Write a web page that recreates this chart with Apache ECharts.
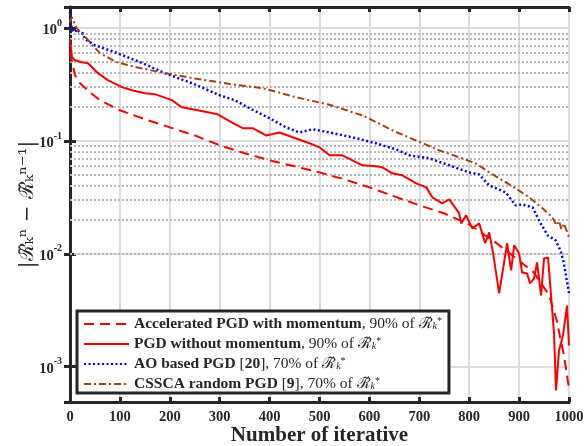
<!DOCTYPE html>
<html>
<head>
<meta charset="utf-8">
<script src="https://cdn.jsdelivr.net/npm/echarts@6/dist/echarts.min.js"></script>
<style>
html, body {margin: 0; padding: 0; background: #fff;}
#main {width: 584px; height: 446px;}
</style>
</head>
<body>
<div id="main"></div>
<script>
// Accelerated PGD with momentum
var accIter = [0, 10, 20, 40, 60, 100, 150, 200, 250, 300, 350, 400, 450, 500, 550, 600, 650, 700, 750, 800, 850, 900, 930, 960, 975, 990, 1000];
var accVal = [0.612, 0.383, 0.325, 0.27, 0.23, 0.187, 0.156, 0.132, 0.112, 0.0916, 0.0778, 0.0674, 0.0596, 0.0527, 0.0457, 0.0388, 0.0323, 0.0269, 0.0228, 0.0182, 0.0129, 0.0087, 0.0068, 0.0043, 0.0026, 0.00125, 0.00064];

// PGD without momentum
var pgdIter = [0, 4, 10, 24, 36, 56, 76, 104, 124, 150, 170, 204, 224, 256, 296, 324, 346, 366, 393, 420, 446, 480, 500, 520, 546, 566, 586, 613, 626, 646, 666, 694, 714, 726, 746, 760, 780, 784, 794, 806, 820, 832, 840, 848, 860, 876, 884, 890, 900, 906, 916, 922, 930, 936, 944, 950, 958, 970, 974, 980, 988, 996, 1000];
var pgdVal = [0.80, 0.553, 0.52, 0.499, 0.489, 0.399, 0.346, 0.300, 0.282, 0.265, 0.260, 0.230, 0.199, 0.187, 0.1725, 0.1465, 0.130, 0.130, 0.112, 0.119, 0.108, 0.0954, 0.0879, 0.0746, 0.0746, 0.0674, 0.0609, 0.0596, 0.0584, 0.0517, 0.0496, 0.0421, 0.0388, 0.0317, 0.028, 0.0304, 0.0228, 0.0186, 0.0219, 0.0168, 0.0186, 0.0124, 0.0155, 0.0101, 0.00446, 0.0124, 0.00713, 0.0119, 0.0101, 0.00684, 0.0067, 0.00546, 0.00605, 0.00839, 0.00427, 0.0091, 0.00929, 0.00197, 0.000614, 0.00139, 0.00189, 0.00348, 0.00154];

// AO based PGD
var aoIter = [0, 3, 6, 10, 14, 18, 22, 26, 30, 50, 90, 150, 190, 250, 300, 330, 360, 400, 433, 460, 486, 520, 573, 613, 653, 680, 720, 760, 800, 820, 840, 873, 893, 907, 927, 940, 957, 973, 983, 990, 995, 1000];
var aoVal = [1.39, 0.98, 1.0, 0.92, 0.98, 0.93, 0.95, 0.9, 0.80, 0.706, 0.612, 0.48, 0.399, 0.318, 0.254, 0.23, 0.195, 0.159, 0.132, 0.119, 0.127, 0.119, 0.106, 0.0954, 0.0844, 0.0746, 0.0703, 0.0609, 0.0527, 0.0506, 0.0404, 0.0351, 0.0269, 0.0274, 0.0258, 0.0198, 0.0146, 0.0132, 0.0107, 0.0082, 0.006, 0.0045];

// CSSCA random PGD
var csIter = [0, 3, 6, 12, 20, 33, 45, 60, 93, 133, 180, 247, 320, 387, 453, 520, 587, 650, 693, 740, 780, 813, 840, 867, 893, 920, 947, 967, 975, 980, 985, 990, 1000];
var csVal = [1.13, 1.25, 1.2, 1.02, 0.93, 0.815, 0.706, 0.60, 0.50, 0.451, 0.407, 0.36, 0.32, 0.2935, 0.244, 0.2095, 0.168, 0.122, 0.1014, 0.0826, 0.0717, 0.0634, 0.0527, 0.0448, 0.038, 0.0317, 0.0253, 0.021, 0.0179, 0.0195, 0.0165, 0.0185, 0.014];

var seriesNames = ['Accelerated PGD with momentum', 'PGD without momentum', 'AO based PGD [20]', 'CSSCA random PGD [9]'];
var minorGrid = [5e-4, 6e-4, 7e-4, 8e-4, 9e-4,
    2e-3, 3e-3, 4e-3, 5e-3, 6e-3, 7e-3, 8e-3, 9e-3,
    2e-2, 3e-2, 4e-2, 5e-2, 6e-2, 7e-2, 8e-2, 9e-2,
    0.2, 0.3, 0.4, 0.5, 0.6, 0.7, 0.8, 0.9];

var yMin = 0.000486, yMax = 1.54;
var ink = '#262626';
var serif = 'Liberation Serif';

function zip(a, b) {
    var out = [];
    for (var i = 0; i < a.length; i++) out.push([a[i], b[i]]);
    return out;
}

var R = '\u211B\u0303';
var legendText = {
    'Accelerated PGD with momentum': '{t|Accelerated PGD with momentum}{m|, 90% of ' + R + '}{sb|k}{sp|*}',
    'PGD without momentum': '{t|PGD without momentum}{m|, 90% of ' + R + '}{sb|k}{sp|*}',
    'AO based PGD [20]': '{t|AO based PGD }{m|[}{t|20}{m|], 70% of ' + R + '}{sb|k}{sp|*}',
    'CSSCA random PGD [9]': '{t|CSSCA random PGD }{m|[}{t|9}{m|], 70% of ' + R + '}{sb|k}{sp|*}'
};

var chart = echarts.init(document.getElementById('main'));

function logLabel(v) {
    var e = Math.log10(v);
    var r = Math.round(e);
    if (Math.abs(e - r) > 1e-6) return '';
    return '{b|10}{s|' + r + '}';
}

var boxAxisLine = {show: true, lineStyle: {color: ink, width: 3}};

chart.setOption({
    animation: false,
    grid: {left: 70, right: 15, top: 7, bottom: 44, containLabel: false, outerBoundsMode: 'none'},
    legend: {
        left: 77,
        top: 311,
        orient: 'vertical',
        itemWidth: 45,
        itemHeight: 14,
        itemGap: 4,
        padding: [5, 7, 1, 6],
        borderColor: ink,
        borderWidth: 3,
        borderRadius: 0,
        backgroundColor: '#fff',
        itemStyle: {opacity: 0},
        data: seriesNames,
        formatter: function (name) { return legendText[name]; },
        textStyle: {
            color: ink,
            rich: {
                t: {fontFamily: serif, fontWeight: 'bold', fontSize: 15.5, color: ink, lineHeight: 15},
                m: {fontFamily: serif, fontSize: 15.5, color: ink, lineHeight: 15},
                sb: {fontFamily: serif, fontStyle: 'italic', fontSize: 10, color: ink, lineHeight: 8, verticalAlign: 'bottom'},
                sp: {fontFamily: serif, fontSize: 10, color: ink, lineHeight: 8, verticalAlign: 'top'}
            }
        }
    },
    xAxis: [
        {
            type: 'value',
            min: 0,
            max: 1000,
            interval: 100,
            name: 'Number of iterative',
            nameLocation: 'middle',
            nameGap: 23,
            nameMoveOverlap: false,
            nameTextStyle: {fontFamily: serif, fontWeight: 'bold', fontSize: 21, color: ink},
            axisLine: boxAxisLine,
            axisTick: {show: true, inside: true, length: 5, lineStyle: {color: ink, width: 3}},
            axisLabel: {
                fontFamily: serif, fontWeight: 'bold', fontSize: 14.5, color: ink, margin: 8,
                formatter: function (v) { return String(v); }
            },
            splitLine: {show: true, lineStyle: {color: '#dcdcdc', width: 2}}
        },
        {
            type: 'value',
            position: 'top',
            min: 0,
            max: 1000,
            interval: 100,
            axisLine: boxAxisLine,
            axisTick: {show: true, inside: true, length: 5, lineStyle: {color: ink, width: 3}},
            axisLabel: {show: false},
            splitLine: {show: false}
        }
    ],
    yAxis: [
        {
            type: 'log',
            logBase: 10,
            min: yMin,
            max: yMax,
            name: '|' + R + '\u2096\u207F \u2212 ' + R + '\u2096\u207F\u207B\u00B9|',
            nameLocation: 'middle',
            nameRotate: 90,
            nameGap: 32,
            nameMoveOverlap: false,
            nameTextStyle: {fontFamily: 'DejaVu Serif', fontSize: 20, color: ink},
            axisLine: boxAxisLine,
            axisTick: {show: true, inside: true, length: 6, lineStyle: {color: ink, width: 3}},
            axisLabel: {
                formatter: logLabel,
                margin: 8,
                rich: {
                    b: {fontFamily: serif, fontWeight: 'bold', fontSize: 14.5, color: ink, lineHeight: 20, verticalAlign: 'bottom'},
                    s: {fontFamily: serif, fontWeight: 'bold', fontSize: 10, color: ink, lineHeight: 12, verticalAlign: 'top'}
                }
            },
            splitLine: {show: true, lineStyle: {color: '#dcdcdc', width: 2}}
        },
        {
            type: 'log',
            logBase: 10,
            position: 'right',
            min: yMin,
            max: yMax,
            axisLine: boxAxisLine,
            axisTick: {show: true, inside: true, length: 6, lineStyle: {color: ink, width: 3}},
            axisLabel: {show: false},
            splitLine: {show: false}
        }
    ],
    series: [
        {
            name: seriesNames[0],
            type: 'line',
            data: zip(accIter, accVal),
            symbol: 'none',
            z: 3,
            lineStyle: {color: '#ff0000', width: 2, type: [10, 6]},
            itemStyle: {color: '#ff0000'},
            markLine: {
                silent: true,
                z: 1,
                symbol: ['none', 'none'],
                label: {show: false},
                animation: false,
                lineStyle: {color: '#b8b8b8', width: 2, type: [2, 2]},
                emphasis: {disabled: true},
                data: minorGrid.map(function (v) { return {yAxis: v}; })
            }
        },
        {
            name: seriesNames[1],
            type: 'line',
            data: zip(pgdIter, pgdVal),
            symbol: 'none',
            z: 3,
            lineStyle: {color: '#ff0000', width: 2},
            itemStyle: {color: '#ff0000'}
        },
        {
            name: seriesNames[2],
            type: 'line',
            data: zip(aoIter, aoVal),
            symbol: 'none',
            z: 3,
            lineStyle: {color: '#0000ff', width: 2.5, type: [2, 2.5]},
            itemStyle: {color: '#0000ff'}
        },
        {
            name: seriesNames[3],
            type: 'line',
            data: zip(csIter, csVal),
            symbol: 'none',
            z: 3,
            lineStyle: {color: '#a4420f', width: 2, type: [7, 3, 2, 3]},
            itemStyle: {color: '#a4420f'}
        }
    ]
});
</script>
</body>
</html>
